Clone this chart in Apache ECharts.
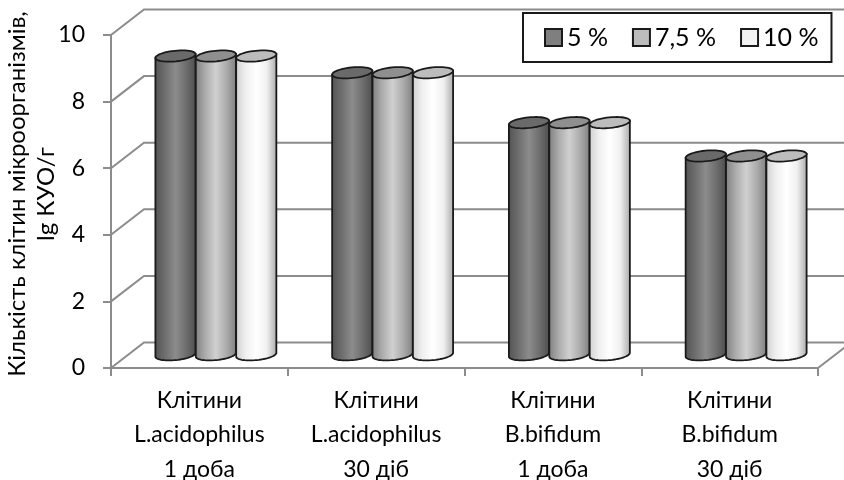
<!DOCTYPE html>
<html><head><meta charset="utf-8">
<style>html,body{margin:0;padding:0;background:#fff}#c{width:844px;height:480px}</style>
<script src="https://cdn.jsdelivr.net/npm/echarts@6/dist/echarts.min.js"></script>
</head><body><div id="c"></div>
<script>
const categories = ['Клітини\nL.acidophilus\n1 доба','Клітини\nL.acidophilus\n30 діб','Клітини\nB.bifidum\n1 доба','Клітини\nB.bifidum\n30 діб'];
const seriesNames = ['5 %','7,5 %','10 %'];
const values5 = [9, 8.5, 7, 6];
const values75 = [9, 8.5, 7, 6];
const values10 = [9, 8.5, 7, 6];
const tickValues = [0, 2, 4, 6, 8, 10];
const yAxisTitle = 'Кількість клітин мікроорганізмів,\nlg КУО/г';

const FONT = 'Lato, "Open Sans", sans-serif';
const depthX = 33, depthY = -25.5;
const wallColor = '#8c8c8c';
const looks = [
  {stops:['#525252','#6e6e6e','#8c8c8c','#6e6e6e','#4c4c4c'], top:'#6a6a6a', key:'#7f7f7f'},
  {stops:['#7e7e7e','#acacac','#d0d0d0','#acacac','#7e7e7e'], top:'#8f8f8f', key:'#bcbcbc'},
  {stops:['#cfcfcf','#f0f0f0','#ffffff','#f0f0f0','#a8a8a8'], top:'#bcbcbc', key:'#f2f2f2'}
];

function renderWall(params, api) {
  const v = api.value(0), cs = params.coordSys;
  const y = api.coord([0, v])[1];
  const xl = cs.x, xr = cs.x + cs.width;
  const style = {stroke: wallColor, lineWidth: 2, fill: 'none'};
  const kids = [
    {type:'polyline', shape:{points:[[xl,y],[xl+depthX,y+depthY],[xr+depthX,y+depthY]]}, style}
  ];
  if (v === 0) kids.push({type:'line', shape:{x1:xr,y1:y,x2:xr+depthX,y2:y+depthY}, style});
  return {type:'group', children:kids};
}

function ellipsePts(cx, cy, a, b, from, to, n) {
  const tilt = -0.1, pts = [];
  for (let i = 0; i <= n; i++) {
    const t = from + (to - from) * (n ? i / n : 0);
    const ex = a * Math.cos(t), ey = b * Math.sin(t);
    pts.push([cx + ex * Math.cos(tilt) - ey * Math.sin(tilt), cy + ex * Math.sin(tilt) + ey * Math.cos(tilt)]);
  }
  return pts;
}

function makeRender(idx) {
  return function (params, api) {
    const cat = api.value(0), val = api.value(1);
    const band = api.size([1, 0])[0];
    const w = band * 0.2285;
    const base = api.coord([cat, 0]), top = api.coord([cat, val]);
    const cx = base[0] + depthX / 2 + (idx - 1) * w;
    const yB = base[1] + depthY / 2 - 0.5, yT = top[1] + depthY / 2 + 0.5;
    const a = w / 2, b = 5.3;
    const lower = ellipsePts(cx, yB, a, b, 0, Math.PI, 30);
    const right = ellipsePts(cx, yT, a, b, 0, 0, 0)[0];
    const left = ellipsePts(cx, yT, a, b, Math.PI, Math.PI, 0)[0];
    const body = [left].concat(lower.slice().reverse()).concat([right]);
    const k = looks[idx];
    const grad = new echarts.graphic.LinearGradient(0,0,1,0,
      k.stops.map((c,i)=>({offset:i/(k.stops.length-1), color:c})));
    return {type:'group', children:[
      {type:'polygon', shape:{points:body}, style:{fill:grad, stroke:'#1a1a1a', lineWidth:1.8}},
      {type:'polygon', shape:{points:ellipsePts(cx, yT, a, b, 0, Math.PI*2, 48)}, style:{fill:k.top, stroke:'#1a1a1a', lineWidth:1.8}}
    ]};
  };
}

const seriesValues = [values5, values75, values10];
const chart = echarts.init(document.getElementById('c'), null, {renderer:'canvas'});
chart.setOption({
  animation:false,
  backgroundColor:'#fff',
  grid:{left:111, right:26, top:35, bottom:112, containLabel:false, outerBoundsMode:'none'},
  xAxis:{type:'category', data:categories, boundaryGap:true,
    axisLine:{lineStyle:{color:wallColor,width:2}},
    axisTick:{show:true,length:8,alignWithLabel:false,lineStyle:{color:wallColor,width:2}},
    axisLabel:{interval:0,color:'#000',fontFamily:FONT,fontSize:23,lineHeight:34.5,margin:15}
  },
  yAxis:{type:'value',min:0,max:10,interval:2,
    name:yAxisTitle,nameLocation:'middle',nameRotate:90,nameGap:50,nameMoveOverlap:false,
    nameTextStyle:{color:'#000',fontFamily:FONT,fontSize:24,lineHeight:29,padding:[0,0,0,15]},
    axisLine:{show:true,lineStyle:{color:wallColor,width:2}},
    axisTick:{show:true,length:8,lineStyle:{color:wallColor,width:2}},
    splitLine:{show:false},
    axisLabel:{color:'#000',fontFamily:FONT,fontSize:23,margin:26,padding:[4,0,0,0]}
  },
  legend:{data:seriesNames,left:523,top:13,orient:'horizontal',
    backgroundColor:'#fff',borderColor:'#1a1a1a',borderWidth:2,
    padding:[12,13,12,21],itemWidth:17,itemHeight:17,itemGap:24,icon:'rect',
    textStyle:{color:'#000',fontFamily:FONT,fontSize:25}
  },
  series:[
    {type:'custom',name:'wall',silent:true,z:1,renderItem:renderWall,data:tickValues.map(v=>[v]),encode:{y:0}},
  ].concat(seriesNames.map((n,i)=>({
    type:'custom',name:n,z:2+i,renderItem:makeRender(i),
    itemStyle:{color:looks[i].key,borderColor:'#1a1a1a',borderWidth:1.5},
    data:seriesValues[i].map((v,c)=>[c,v]),encode:{x:0,y:1}
  })))
});
</script></body></html>
